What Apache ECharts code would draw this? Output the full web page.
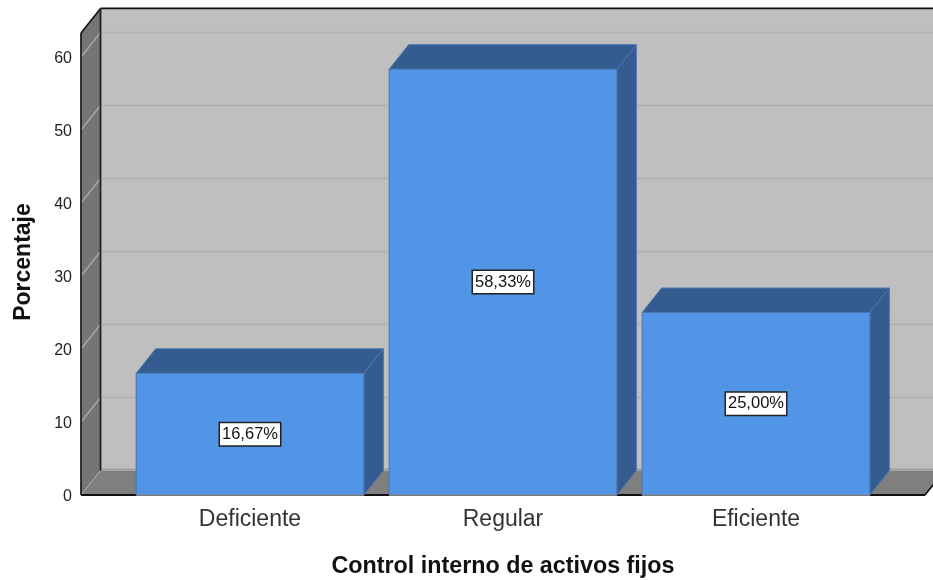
<!DOCTYPE html>
<html>
<head>
<meta charset="utf-8">
<style>html,body{margin:0;padding:0;background:#fff}#c{width:933px;height:580px}</style>
<script src="https://cdn.jsdelivr.net/npm/echarts@6/dist/echarts.min.js"></script>
</head>
<body>
<div id="c"></div>
<script>
var categories = ['Deficiente', 'Regular', 'Eficiente'];
var percentages = [16.67, 58.33, 25.00];
var percentLabels = ['16,67%', '58,33%', '25,00%'];
var gridTicks = [10, 20, 30, 40, 50, 60];
var wallTopValue = 63.3;
var xAxisTitle = 'Control interno de activos fijos';
var yAxisTitle = 'Porcentaje';

var DX = 19.5, DY = -24.5, SIDE = 42.5;
var FRONT = '#5294E6', DARK = '#345C90', EDGE = '#4A76AE';

function poly(points, fill, stroke, lw) {
  return { type: 'polygon', shape: { points: points },
    style: { fill: fill, stroke: stroke || null, lineWidth: lw || 0 } };
}
function line(x1, y1, x2, y2, color, lw) {
  return { type: 'line', shape: { x1: x1, y1: y1, x2: x2, y2: y2 },
    style: { stroke: color, lineWidth: lw, fill: null } };
}

function renderWalls(params, api) {
  var cs = params.coordSys;
  var L = cs.x - SIDE, R = cs.x + cs.width + SIDE;
  var B = api.coord([0, 0])[1];
  var T = api.coord([0, wallTopValue])[1];
  var ch = [
    poly([[L + DX, T + DY], [R + DX + 20, T + DY], [R + DX + 20, B + DY], [L + DX, B + DY]], '#BFBFBF'),
    poly([[L, T], [L + DX, T + DY], [L + DX, B + DY], [L, B]], '#757575'),
    poly([[L, B], [L + DX, B + DY], [R + DX, B + DY], [R, B]], '#7F7F7F')
  ];
  gridTicks.forEach(function (t) {
    var y = api.coord([0, t])[1];
    ch.push(line(L + DX, y + DY, R + DX + 20, y + DY, '#B1B1B1', 1.5));
    ch.push(line(L, y, L + DX, y + DY, '#A6A6A6', 1.5));
  });
  ch.push(line(L, B, L + DX, B + DY, '#A6A6A6', 1));
  ch.push(line(L + DX, B + DY - 1, R + DX + 20, B + DY - 1, '#A0A0A0', 2));
  ch.push(line(L + DX, T + DY, R + DX + 20, T + DY, '#111', 1.6));
  ch.push(line(L, T, L + DX, T + DY, '#111', 1.6));
  ch.push(line(L + DX, T + DY, L + DX, B + DY, '#222', 1.8));
  ch.push(line(L, T, L, B, '#222', 1.8));
  ch.push(line(L, B, R, B, '#111', 1.8));
  ch.push(line(R, B, R + DX, B + DY, '#111', 1.6));
  return { type: 'group', children: ch };
}

function renderBar(params, api) {
  var i = api.value(0), v = api.value(1);
  var top = api.coord([i, v]), base = api.coord([i, 0]);
  var w = api.size([1, 0])[0] * 0.9;
  var x0 = top[0] - w / 2, x1 = top[0] + w / 2, yT = top[1], yB = base[1];
  return { type: 'group', children: [
    poly([[x1, yT], [x1 + DX, yT + DY], [x1 + DX, yB + DY], [x1, yB]], DARK, EDGE, 1),
    poly([[x0, yT], [x0 + DX, yT + DY], [x1 + DX, yT + DY], [x1, yT]], DARK, EDGE, 1),
    { type: 'rect', shape: { x: x0, y: yT, width: w, height: yB - yT },
      style: { fill: FRONT, stroke: EDGE, lineWidth: 1 } },
    { type: 'line', shape: { x1: x0, y1: yB, x2: x1, y2: yB }, style: { stroke: '#8A8F96', lineWidth: 1.5 } },
    { type: 'text', x: top[0], y: (yT + yB) / 2, z2: 10,
      style: { text: percentLabels[i], x: 0, y: 0, align: 'center', verticalAlign: 'middle',
        font: '16.5px "Liberation Sans", Arial, sans-serif', fill: '#111',
        backgroundColor: '#fff', borderColor: '#222', borderWidth: 1.5, padding: [3, 2, 2, 2] } }
  ] };
}

var chart = echarts.init(document.getElementById('c'), null, { renderer: 'canvas' });
chart.setOption({
  animation: false,
  backgroundColor: '#fff',
  textStyle: { fontFamily: '"Liberation Sans", Arial, sans-serif' },
  grid: { left: 123.5, width: 759, top: 57, bottom: 85, containLabel: false, outerBoundsMode: 'none' },
  xAxis: {
    type: 'category', data: categories,
    axisLine: { show: false }, axisTick: { show: false },
    axisLabel: { fontSize: 23, color: '#333', margin: 13 },
    name: xAxisTitle, nameLocation: 'middle', nameGap: 60,
    nameTextStyle: { fontSize: 23.3, fontWeight: 'bold', color: '#111' }
  },
  yAxis: {
    type: 'value', min: 0, max: 60, interval: 10, offset: SIDE,
    axisLine: { show: false }, axisTick: { show: false }, splitLine: { show: false },
    axisLabel: { fontSize: 16, color: '#222', margin: 9, verticalAlign: 'top', lineHeight: 4 },
    name: yAxisTitle, nameLocation: 'middle', nameGap: 46,
    nameTextStyle: { fontSize: 23, fontWeight: 'bold', color: '#111', padding: [0, 0, 0, 28] }
  },
  series: [
    { type: 'custom', name: 'walls', clip: false, silent: true, z: 1,
      data: [[0, 0]], renderItem: renderWalls },
    { type: 'custom', name: 'Porcentaje', clip: false, z: 2,
      data: percentages.map(function (v, i) { return [i, v]; }),
      encode: { x: 0, y: 1 }, renderItem: renderBar }
  ]
});
</script>
</body>
</html>
